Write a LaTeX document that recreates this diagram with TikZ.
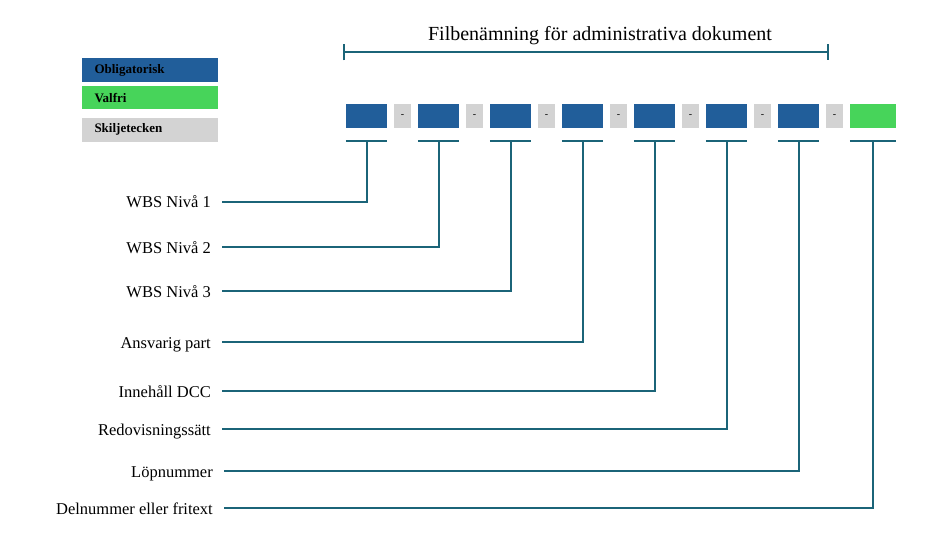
\documentclass[tikz,border=0pt]{standalone}
\usepackage{fontspec}
\setmainfont{Liberation Serif}
\usetikzlibrary{arrows.meta}
\usetikzlibrary{positioning}
\definecolor{obblue}{HTML}{215E9A}
\definecolor{valgreen}{HTML}{47D45A}
\definecolor{skgray}{HTML}{D3D3D3}
\definecolor{linkteal}{HTML}{1B6478}
\tikzstyle{field} = [rectangle, fill=obblue, minimum width=41pt, minimum height=24pt, inner sep=0pt]
\tikzstyle{optfield} = [rectangle, fill=valgreen, minimum width=46pt, minimum height=24pt, inner sep=0pt]
\tikzstyle{sepbox} = [rectangle, fill=skgray, minimum width=17pt, minimum height=24pt, inner sep=0pt, font=\fontsize{10}{10}\selectfont]
\tikzstyle{legend} = [rectangle, minimum height=24pt, text width=110pt, inner xsep=13pt, inner ysep=0pt, align=left, font=\bfseries\fontsize{13}{13}\selectfont]
\tikzstyle{fieldname} = [anchor=east, inner xsep=11pt, inner ysep=0pt, text height=15pt, text depth=3pt, font=\fontsize{16.5}{16.5}\selectfont]
\tikzstyle{link} = [draw=linkteal, line width=2pt]

\begin{document}
\begin{tikzpicture}[x=1pt, y=-1pt, node distance=6.6pt]
\useasboundingbox (0,0) rectangle (937,540);

% legend
\node (oblig) [legend, fill=obblue] at (149.5,70) {Obligatorisk};
\node (valfri) [legend, fill=valgreen, minimum height=23pt, below=4pt of oblig] {Valfri};
\node (skilj) [legend, fill=skgray, below=8pt of valfri] {Skiljetecken};

% title
\node (title) at (600,36) {\fontsize{20}{20}\selectfont Filbenämning för administrativa dokument};
\coordinate (brl) at (343,52.5);
\coordinate (brr) at (829,52.5);
\draw[link, {Bar[width=16pt]}-{Bar[width=16pt]}] (brl) -- (brr);

% fields
\node (f1) [field] at (366.5,116) {};
\node (d1) [sepbox, right=of f1] {-};
\node (f2) [field, right=of d1] {};
\node (d2) [sepbox, right=of f2] {-};
\node (f3) [field, right=of d2] {};
\node (d3) [sepbox, right=of f3] {-};
\node (f4) [field, right=of d3] {};
\node (d4) [sepbox, right=of f4] {-};
\node (f5) [field, right=of d4] {};
\node (d5) [sepbox, right=of f5] {-};
\node (f6) [field, right=of d5] {};
\node (d6) [sepbox, right=of f6] {-};
\node (f7) [field, right=of d6] {};
\node (d7) [sepbox, right=of f7] {-};
\node (f8) [optfield, right=of d7] {};

% field names
\node (n1) [fieldname] at (222,202) {WBS Nivå 1};
\node (n2) [fieldname] at (222,247) {WBS Nivå 2};
\node (n3) [fieldname] at (222,291) {WBS Nivå 3};
\node (n4) [fieldname] at (222,342) {Ansvarig part};
\node (n5) [fieldname] at (222,391) {Innehåll DCC};
\node (n6) [fieldname] at (222,429) {Redovisningssätt};
\node (n7) [fieldname] at (224,471) {Löpnummer};
\node (n8) [fieldname] at (224,508) {Delnummer eller fritext};

% connectors
\draw[link] ([yshift=-13pt]f1.south west) -- ([yshift=-13pt]f1.south east);
\draw[link] ([yshift=-13pt]f1.south) |- (n1.east);
\draw[link] ([yshift=-13pt]f2.south west) -- ([yshift=-13pt]f2.south east);
\draw[link] ([yshift=-13pt]f2.south) |- (n2.east);
\draw[link] ([yshift=-13pt]f3.south west) -- ([yshift=-13pt]f3.south east);
\draw[link] ([yshift=-13pt]f3.south) |- (n3.east);
\draw[link] ([yshift=-13pt]f4.south west) -- ([yshift=-13pt]f4.south east);
\draw[link] ([yshift=-13pt]f4.south) |- (n4.east);
\draw[link] ([yshift=-13pt]f5.south west) -- ([yshift=-13pt]f5.south east);
\draw[link] ([yshift=-13pt]f5.south) |- (n5.east);
\draw[link] ([yshift=-13pt]f6.south west) -- ([yshift=-13pt]f6.south east);
\draw[link] ([yshift=-13pt]f6.south) |- (n6.east);
\draw[link] ([yshift=-13pt]f7.south west) -- ([yshift=-13pt]f7.south east);
\draw[link] ([yshift=-13pt]f7.south) |- (n7.east);
\draw[link] ([yshift=-13pt]f8.south west) -- ([yshift=-13pt]f8.south east);
\draw[link] ([yshift=-13pt]f8.south) |- (n8.east);
\end{tikzpicture}
\end{document}
